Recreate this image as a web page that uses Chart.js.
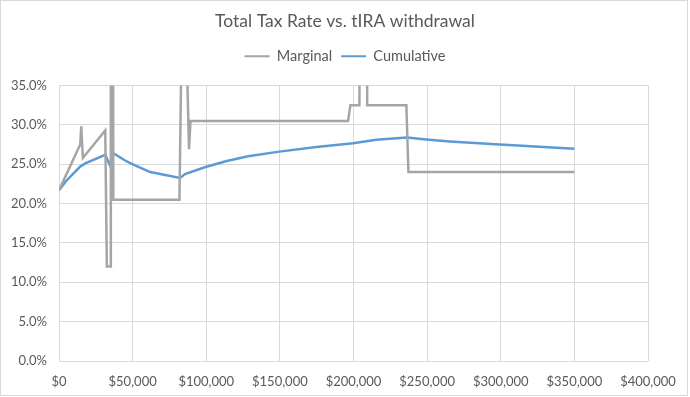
<!DOCTYPE html>
<html>
<head>
<meta charset="utf-8">
<script src="https://cdn.jsdelivr.net/npm/chart.js@4"></script>
<style>
  html, body { margin: 0; padding: 0; background: #fff; }
  #wrap { width: 690px; height: 397px; position: relative; }
</style>
</head>
<body>
<div id="wrap"><canvas id="chart"></canvas></div>
<script>
// withdrawal amounts ($) and tax rates (%)
const marginalX = [0, 14400, 15100, 16200, 31400, 32500, 35000, 35200, 36500, 36900, 81800, 83200, 86600, 88300, 89300,
  196300, 197900, 204000, 205000, 208900, 209300, 235900, 237300, 350000];
const marginalY = [21.7, 27.5, 29.8, 25.8, 29.3, 12.0, 12.0, 70, 70, 20.5, 20.5, 40, 40, 26.9, 30.5,
  30.5, 32.5, 32.5, 60, 60, 32.5, 32.5, 24.0, 24.0];

const cumulativeX = [0, 5000, 14400, 17800, 31400, 34800, 36400, 46000, 51700, 61900, 73000, 82200, 85600, 99500,
  113900, 128500, 149600, 174900, 199700, 215600, 236200, 249500, 265300, 299400, 350000];
const cumulativeY = [21.7, 22.9, 24.7, 25.1, 26.2, 24.8, 26.45, 25.35, 24.85, 24.0, 23.6, 23.25, 23.75, 24.65,
  25.4, 26.0, 26.6, 27.2, 27.65, 28.1, 28.4, 28.15, 27.9, 27.5, 26.95];

const xTicks = [0, 50000, 100000, 150000, 200000, 250000, 300000, 350000, 400000];
const yTicks = [0, 5, 10, 15, 20, 25, 30, 35];

const FONT = 'Lato, "Open Sans", sans-serif';
const TEXT = '#595959';
const GRID = '#d9d9d9';

const toPoints = (xs, ys) => xs.map((x, i) => ({ x, y: ys[i] }));

const frame = {
  id: 'frame',
  beforeDraw(chart) {
    const ctx = chart.ctx;
    ctx.save();
    ctx.fillStyle = '#fff';
    ctx.fillRect(0, 0, chart.width, chart.height);
    ctx.strokeStyle = GRID;
    ctx.lineWidth = 1;
    ctx.strokeRect(0.5, 0.5, chart.width - 3, chart.height - 2);
    ctx.restore();
  }
};

// empty axis, only used to reserve space
const spacer = (position, size) => ({
  position,
  display: true,
  afterFit(scale) {
    if (scale.isHorizontal()) scale.height = size; else scale.width = size;
  },
  grid: { display: false, drawTicks: false },
  border: { display: false },
  ticks: { display: false }
});

new Chart(document.getElementById('chart'), {
  type: 'line',
  data: {
    datasets: [
      { label: 'Marginal', data: toPoints(marginalX, marginalY), borderColor: '#a5a5a5', backgroundColor: '#a5a5a5' },
      { label: 'Cumulative', data: toPoints(cumulativeX, cumulativeY), borderColor: '#5b9bd5', backgroundColor: '#5b9bd5' }
    ]
  },
  options: {
    responsive: true,
    maintainAspectRatio: false,
    animation: false,
    layout: { padding: 0 },
    elements: {
      line: { borderWidth: 2.5, tension: 0 },
      point: { radius: 0, hoverRadius: 0 }
    },
    plugins: {
      tooltip: { enabled: false },
      title: {
        display: true,
        text: 'Total Tax Rate vs. tIRA withdrawal',
        color: TEXT,
        font: { family: FONT, size: 17.5, weight: 'normal' },
        padding: { top: 11, bottom: 8 }
      },
      legend: {
        position: 'top',
        labels: {
          color: TEXT,
          font: { family: FONT, size: 14.5 },
          boxWidth: 25,
          boxHeight: 2,
          padding: 9,
          generateLabels(chart) {
            const items = Chart.defaults.plugins.legend.labels.generateLabels(chart);
            items.forEach(it => { it.lineWidth = 0; it.fillStyle = it.strokeStyle; });
            return items;
          }
        }
      }
    },
    scales: {
      x: {
        type: 'linear',
        min: 0,
        max: 400000,
        afterBuildTicks(scale) { scale.ticks = xTicks.map(v => ({ value: v })); },
        afterFit(scale) { scale.height = 36; },
        grid: { color: GRID, drawTicks: false },
        border: { display: false },
        ticks: {
          color: TEXT,
          font: { family: FONT, size: 13 },
          padding: 13,
          maxRotation: 0,
          callback: v => '$' + v.toLocaleString('en-US')
        }
      },
      y: {
        min: 0,
        max: 35,
        afterBuildTicks(scale) { scale.ticks = yTicks.map(v => ({ value: v })); },
        afterFit(scale) { scale.width = 59; },
        grid: { color: GRID, drawTicks: false },
        border: { display: false },
        ticks: {
          color: TEXT,
          font: { family: FONT, size: 13 },
          padding: 12,
          callback: v => v.toFixed(1) + '%'
        }
      },
      gapRight: spacer('right', 42),
      gapTop: Object.assign(spacer('top', 12), { type: 'linear' })
    }
  },
  plugins: [frame]
});
</script>
</body>
</html>
